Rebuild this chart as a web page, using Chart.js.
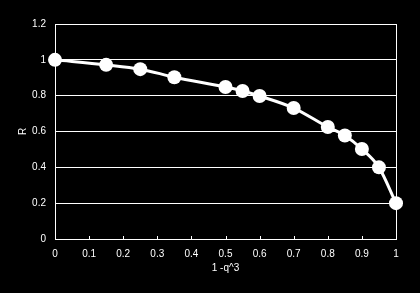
<!DOCTYPE html>
<html><head><meta charset="utf-8">
<script src="https://cdn.jsdelivr.net/npm/chart.js@4"></script>
<style>html,body{margin:0;padding:0;background:#000;}#w{width:420px;height:293px;}</style>
</head><body><div id="w"><canvas id="c"></canvas></div>
<script>
const xValues = [0, 0.15, 0.25, 0.35, 0.5, 0.55, 0.6, 0.7, 0.8, 0.85, 0.9, 0.95, 1.0];
const rValues = [1.0, 0.972, 0.948, 0.903, 0.848, 0.826, 0.798, 0.731, 0.625, 0.578, 0.502, 0.40, 0.2];
const xTitle = '1 -q^3';
const yTitle = 'R';

const fmt = v => String(Math.round(v * 10) / 10);
const innerTicks = {
  id: 'innerTicks',
  afterDatasetsDraw(chart) {
    const {ctx, scales: {x}, chartArea} = chart;
    ctx.save();
    ctx.strokeStyle = '#fff'; ctx.lineWidth = 1;
    x.ticks.forEach(t => {
      const px = Math.round(x.getPixelForValue(t.value)) + 0.5;
      ctx.beginPath(); ctx.moveTo(px, chartArea.bottom); ctx.lineTo(px, chartArea.bottom - 3); ctx.stroke();
    });
    ctx.restore();
  }
};
new Chart(document.getElementById('c'), {
  type: 'scatter',
  data: { datasets: [{
    data: xValues.map((x, i) => ({x, y: rValues[i]})),
    showLine: true, borderColor: '#fff', borderWidth: 3, tension: 0.4,
    cubicInterpolationMode: 'monotone',
    pointRadius: 7, pointBackgroundColor: '#fff', pointBorderColor: '#fff', pointBorderWidth: 0,
    clip: false
  }]},
  options: {
    responsive: true, maintainAspectRatio: false, animation: false,
    layout: { padding: { top: 24, right: 24, left: 0, bottom: 0 } },
    plugins: { legend: { display: false }, tooltip: { enabled: false } },
    scales: {
      x: {
        type: 'linear', min: 0, max: 1,
        afterFit(s) { s.height = 54; },
        ticks: { stepSize: 0.1, color: '#fff', font: { family: 'Liberation Sans', size: 10 }, padding: 9, callback: fmt, maxRotation: 0 },
        grid: { drawTicks: false, color: c => (c.tick && c.tick.value === 1) ? '#fff' : 'rgba(0,0,0,0)', lineWidth: 1 },
        border: { color: '#fff', width: 1 },
        title: { display: true, text: xTitle, color: '#fff', font: { family: 'Liberation Sans', size: 10 }, padding: { top: 0, bottom: 19 } }
      },
      y: {
        min: 0, max: 1.2,
        afterFit(s) { s.width = 55; },
        ticks: { stepSize: 0.2, color: '#fff', font: { family: 'Liberation Sans', size: 10 }, padding: 9, callback: fmt },
        grid: { drawTicks: false, color: '#fff', lineWidth: 1 },
        border: { color: '#fff', width: 1 },
        title: { display: true, text: yTitle, color: '#fff', font: { family: 'Liberation Sans', size: 10 }, padding: { top: 17, bottom: 0 } }
      }
    }
  },
  plugins: [innerTicks]
});
</script></body></html>
